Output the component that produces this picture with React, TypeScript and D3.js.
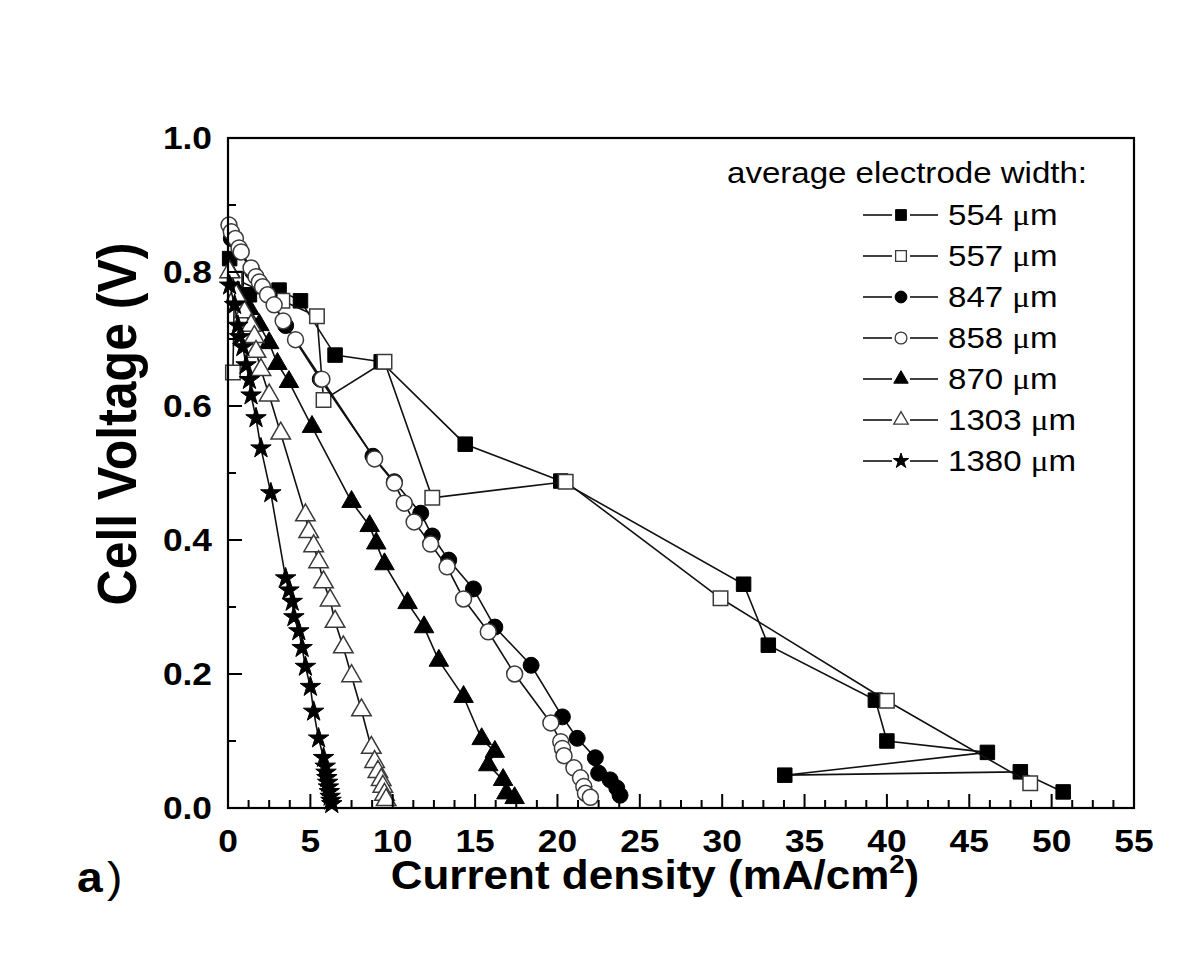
import React, { useEffect, useRef } from "react";
import * as d3 from "d3";

// average electrode width (µm) for each curve
const widths = ["554", "557", "847", "858", "870", "1303", "1380"];

// [current density mA/cm2, cell voltage V]
const w554 = [
  [0.1, 0.82], [0.5, 0.79], [1.3, 0.766], [3.1, 0.773], [4.4, 0.757], [6.5, 0.676],
  [9.3, 0.666], [14.4, 0.543], [20.2, 0.488], [31.3, 0.334], [32.8, 0.243], [39.3, 0.161],
  [40.0, 0.1], [46.1, 0.083], [33.8, 0.049], [48.1, 0.054], [50.7, 0.024]
];
const w557 = [
  [0.3, 0.65], [0.4, 0.79], [3.3, 0.757], [5.4, 0.734], [5.8, 0.609], [9.5, 0.666],
  [12.4, 0.463], [20.5, 0.487], [29.9, 0.313], [40.0, 0.16], [48.7, 0.037]
];
const w847 = [
  [0.2, 0.85], [0.7, 0.83], [1.5, 0.8], [2.5, 0.765], [3.5, 0.72], [5.6, 0.64],
  [8.8, 0.525], [10.1, 0.487], [11.7, 0.44], [12.4, 0.406], [13.4, 0.37], [14.9, 0.327],
  [16.2, 0.27], [18.4, 0.213], [20.3, 0.136], [21.2, 0.104], [22.3, 0.075], [22.5, 0.052],
  [23.2, 0.042], [23.6, 0.03], [23.8, 0.019]
];
const w858 = [
  [0.06, 0.87], [0.2, 0.86], [0.45, 0.85], [0.67, 0.836], [0.8, 0.83], [1.4, 0.806],
  [1.7, 0.793], [1.9, 0.785], [2.1, 0.778], [2.4, 0.766], [2.8, 0.751], [3.35, 0.727],
  [4.1, 0.699], [5.7, 0.64], [8.9, 0.521], [10.1, 0.485], [10.7, 0.455], [11.3, 0.427],
  [12.3, 0.394], [13.3, 0.36], [14.3, 0.312], [15.8, 0.263], [17.4, 0.2], [19.6, 0.127],
  [20.2, 0.099], [20.3, 0.089], [20.4, 0.078], [21.0, 0.06], [21.4, 0.045], [21.6, 0.032],
  [21.7, 0.022], [22.0, 0.016]
];
const w870 = [
  [0.15, 0.8], [0.6, 0.77], [1.3, 0.745], [1.9, 0.721], [2.5, 0.694], [3.0, 0.663],
  [3.7, 0.636], [5.1, 0.569], [7.5, 0.457], [8.6, 0.421], [9.0, 0.395], [9.5, 0.364],
  [10.9, 0.306], [11.9, 0.27], [12.8, 0.22], [14.3, 0.166], [15.4, 0.103], [16.2, 0.084],
  [15.8, 0.064], [16.7, 0.042], [16.9, 0.022], [17.4, 0.015]
];
const w1303 = [
  [0.1, 0.8], [0.5, 0.765], [1.0, 0.74], [1.4, 0.72], [1.6, 0.703], [1.7, 0.681],
  [2.0, 0.654], [2.5, 0.616], [3.2, 0.559], [4.7, 0.437], [4.9, 0.412], [5.2, 0.391],
  [5.5, 0.367], [5.8, 0.337], [6.2, 0.31], [6.5, 0.278], [7.0, 0.24], [7.5, 0.197],
  [8.1, 0.146], [8.7, 0.09], [8.9, 0.069], [9.1, 0.054], [9.3, 0.042], [9.4, 0.032],
  [9.5, 0.02], [9.6, 0.012]
];
const w1380 = [
  [0.1, 0.78], [0.4, 0.751], [0.6, 0.72], [0.7, 0.703], [0.9, 0.688], [1.1, 0.661],
  [1.3, 0.639], [1.4, 0.616], [1.7, 0.582], [2.0, 0.537], [2.6, 0.47], [3.5, 0.343],
  [3.7, 0.325], [3.9, 0.308], [4.0, 0.285], [4.3, 0.264], [4.5, 0.239], [4.7, 0.211],
  [5.0, 0.181], [5.2, 0.144], [5.5, 0.104], [5.8, 0.075], [5.9, 0.062], [5.95, 0.053],
  [6.0, 0.045], [6.05, 0.038], [6.1, 0.031], [6.15, 0.024], [6.2, 0.017], [6.25, 0.011],
  [6.3, 0.006]
];

const xTicks = d3.range(0, 56, 5);
const yTicks = [0, 0.2, 0.4, 0.6, 0.8, 1.0];

const allSeries = [w554, w557, w847, w858, w870, w1303, w1380];

// marker per curve, same order as widths
const markers = [
  { type: d3.symbolSquare, size: 210, open: false },
  { type: d3.symbolSquare, size: 210, open: true },
  { type: d3.symbolCircle, size: 200, open: false },
  { type: d3.symbolCircle, size: 200, open: true },
  { type: d3.symbolTriangle, size: 165, open: false },
  { type: d3.symbolTriangle, size: 165, open: true },
  { type: d3.symbolStar, size: 130, open: false }
];

const FONT = "'Liberation Sans', Arial, sans-serif";
const STRETCH = 1.14; // the source glyphs are a bit wider than Arial

export default function App() {
  const ref = useRef(null);

  useEffect(() => {
    const svg = d3.select(ref.current);
    svg.selectAll("*").remove();

    const x = d3.scaleLinear().domain([0, 55]).range([228, 1134]);
    const y = d3.scaleLinear().domain([0, 1]).range([808, 138]);

    const plot = svg.append("g");

    // series lines + symbols
    const line = d3.line().x(d => x(d[0])).y(d => y(d[1]));
    allSeries.forEach((data, i) => {
      const m = markers[i];
      plot.append("path")
        .attr("d", line(data))
        .attr("fill", "none")
        .attr("stroke", "#111")
        .attr("stroke-width", 1.6);
      plot.selectAll(null)
        .data(data)
        .enter()
        .append("path")
        .attr("d", d3.symbol().type(m.type).size(m.size)())
        .attr("transform", d => "translate(" + x(d[0]) + "," + y(d[1]) + ")")
        .attr("fill", m.open ? "#fff" : "#000")
        .attr("stroke", m.open ? "#3a3a3a" : "#000")
        .attr("stroke-width", m.open ? 1.5 : 1);
    });

    // frame
    svg.append("rect")
      .attr("x", 228).attr("y", 138)
      .attr("width", 1134 - 228).attr("height", 808 - 138)
      .attr("fill", "none").attr("stroke", "#000").attr("stroke-width", 2.2);

    // ticks point inward
    const xMinor = d3.range(0, 55.01, 1.25).filter(v => v % 5 !== 0);
    const axes = svg.append("g").attr("stroke", "#000").attr("stroke-width", 2);
    axes.selectAll(null).data(xTicks).enter().append("line")
      .attr("x1", d => x(d)).attr("x2", d => x(d))
      .attr("y1", 808).attr("y2", 794);
    axes.selectAll(null).data(xMinor).enter().append("line")
      .attr("x1", d => x(d)).attr("x2", d => x(d))
      .attr("y1", 808).attr("y2", 800);

    const yMinor = [0.1, 0.3, 0.5, 0.7, 0.9];
    axes.selectAll(null).data(yTicks).enter().append("line")
      .attr("x1", 228).attr("x2", 242)
      .attr("y1", d => y(d)).attr("y2", d => y(d));
    axes.selectAll(null).data(yMinor).enter().append("line")
      .attr("x1", 228).attr("x2", 236)
      .attr("y1", d => y(d)).attr("y2", d => y(d));

    // tick labels
    svg.selectAll(null).data(xTicks).enter().append("text")
      .attr("transform", d => "translate(" + x(d) + ",852) scale(" + STRETCH + ",1)")
      .attr("text-anchor", "middle")
      .style("font-family", FONT).style("font-weight", "bold").style("font-size", "31px")
      .text(d => d);
    svg.selectAll(null).data(yTicks).enter().append("text")
      .attr("transform", d => "translate(212," + (y(d) + 11) + ") scale(" + STRETCH + ",1)")
      .attr("text-anchor", "end")
      .style("font-family", FONT).style("font-weight", "bold").style("font-size", "31px")
      .text(d => d3.format(".1f")(d));

    // axis titles
    const xt = svg.append("text")
      .attr("transform", "translate(655,889) scale(1.1,1)")
      .attr("text-anchor", "middle")
      .style("font-family", FONT).style("font-weight", "bold").style("font-size", "40px");
    xt.append("tspan").text("Current density (mA/cm");
    xt.append("tspan").attr("dy", -16).style("font-size", "25px").text("2");
    xt.append("tspan").attr("dy", 16).text(")");

    svg.append("text")
      .attr("transform", "translate(136,424) rotate(-90) scale(1,1.1)")
      .attr("text-anchor", "middle")
      .style("font-family", FONT).style("font-weight", "bold").style("font-size", "50px")
      .text("Cell Voltage (V)");

    const panel = svg.append("text")
      .attr("transform", "translate(77,892) scale(1.1,1)")
      .style("font-family", FONT).style("font-size", "42px");
    panel.append("tspan").style("font-weight", "bold").text("a");
    panel.append("tspan").attr("dx", 4).style("font-weight", "normal").text(")");

    // legend
    svg.append("text")
      .attr("transform", "translate(727,183) scale(" + STRETCH + ",1)")
      .style("font-family", FONT).style("font-size", "29px")
      .text("average electrode width:");

    widths.forEach((w, i) => {
      const cy = 215 + i * 41;
      const m = markers[i];
      const g = svg.append("g");
      g.append("line").attr("x1", 863).attr("x2", 892).attr("y1", cy).attr("y2", cy)
        .attr("stroke", "#111").attr("stroke-width", 1.6);
      g.append("line").attr("x1", 910).attr("x2", 938).attr("y1", cy).attr("y2", cy)
        .attr("stroke", "#111").attr("stroke-width", 1.6);
      g.append("path")
        .attr("d", d3.symbol().type(m.type).size(m.size * 0.55)())
        .attr("transform", "translate(901," + cy + ")")
        .attr("fill", m.open ? "#fff" : "#000")
        .attr("stroke", m.open ? "#3a3a3a" : "#000")
        .attr("stroke-width", m.open ? 1.3 : 1);
      const t = g.append("text")
        .attr("transform", "translate(948," + (cy + 10) + ") scale(" + STRETCH + ",1)")
        .style("font-family", FONT).style("font-size", "29px");
      t.append("tspan").text(w + " ");
      t.append("tspan").style("font-family", "'Liberation Serif', 'DejaVu Serif', serif").text("μ");
      t.append("tspan").text("m");
    });
  }, []);

  return (
    <svg
      ref={ref}
      width={1201}
      height={979}
      style={{ position: "absolute", left: 0, top: 0, background: "#fff" }}
    />
  );
}
